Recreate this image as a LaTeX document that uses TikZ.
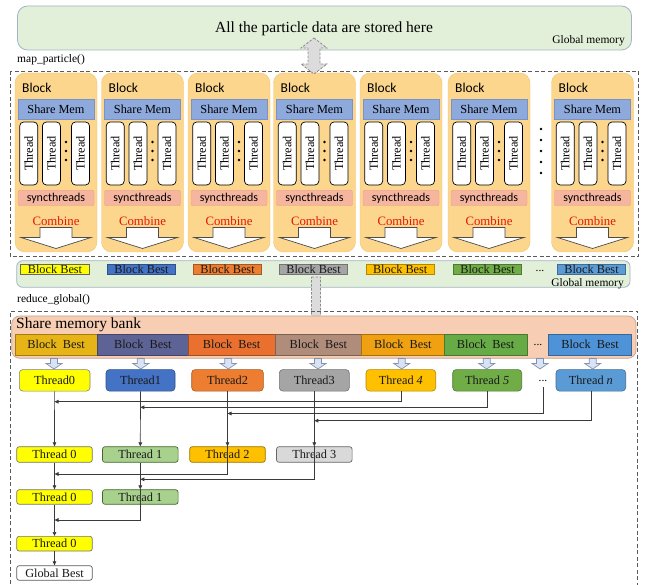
\documentclass[tikz,border=0pt]{standalone}
\usepackage{fontspec}
\setmainfont{Liberation Serif}
\newfontfamily\calibrifont{Carlito}
\usetikzlibrary{arrows.meta}

% frame and panel colours
\definecolor{gmfill}{HTML}{E2F0D9}
\definecolor{gmdraw}{HTML}{A3B3C6}
\definecolor{blkfill}{HTML}{FCD68C}
\definecolor{blkdraw}{HTML}{F1C46E}
\definecolor{smfill}{HTML}{8EA9DB}
\definecolor{smdraw}{HTML}{7A93C6}
\definecolor{syncfill}{HTML}{F5B59F}
\definecolor{syncdraw}{HTML}{EAA184}
\definecolor{combred}{HTML}{E3170A}
\definecolor{bankfill}{HTML}{F7CDB3}
\definecolor{bankdraw}{HTML}{C7A594}
\definecolor{dashgrey}{HTML}{5A5A5A}
\definecolor{linegrey}{HTML}{3A3A3A}
\definecolor{pipefill}{HTML}{DCDCDC}
\definecolor{pipedraw}{HTML}{8C8C8C}
\definecolor{smallarrfill}{HTML}{DAE3F3}
\definecolor{smallarrdraw}{HTML}{7F93B0}
% per-thread palette
\definecolor{pYellow}{HTML}{FFFF00}
\definecolor{pBlue}{HTML}{4472C4}
\definecolor{pOrange}{HTML}{ED7D31}
\definecolor{pGrey}{HTML}{A5A5A5}
\definecolor{pGold}{HTML}{FFC000}
\definecolor{pGreen}{HTML}{70AD47}
\definecolor{pSky}{HTML}{5B9BD5}
\definecolor{pLightGreen}{HTML}{A9D18E}
\definecolor{pLightGrey}{HTML}{D9D9D9}
% shared memory bank cells
\definecolor{bA}{HTML}{E6B416}
\definecolor{bB}{HTML}{5E6396}
\definecolor{bC}{HTML}{E9702F}
\definecolor{bD}{HTML}{B08C7A}
\definecolor{bE}{HTML}{EFA112}
\definecolor{bF}{HTML}{67AB47}
\definecolor{bG}{HTML}{4E92D8}

\tikzset{
  txt/.style={font=\fontsize{11.5}{12}\selectfont, inner sep=0pt},
  bigtxt/.style={font=\fontsize{12.3}{13}\selectfont, inner sep=0pt},
  gmem/.style={draw=gmdraw, fill=gmfill, rounded corners=10pt, line width=0.8pt},
  dashframe/.style={draw=dashgrey, dash pattern=on 4pt off 2.5pt, line width=0.8pt},
  blk/.style={draw=blkdraw, fill=blkfill, rounded corners=10pt, minimum width=82pt, minimum height=179pt, inner sep=0pt},
  blklabel/.style={font=\calibrifont\fontsize{13.5}{14}\selectfont, inner sep=0pt},
  smem/.style={bigtxt, draw=smdraw, fill=smfill, minimum width=76pt, minimum height=20pt},
  thr/.style={bigtxt, draw=black, fill=white, rounded corners=4pt, minimum width=63pt, minimum height=18pt, line width=0.7pt, rotate=90},
  sync/.style={draw=syncdraw, fill=syncfill, rounded corners=2pt, minimum width=76pt, minimum height=15.5pt, inner sep=0pt, font=\calibrifont\fontsize{12}{12}\selectfont},
  combine/.style={font=\fontsize{12.8}{13}\selectfont, inner sep=0pt, text=combred},
  combarrow/.style={draw=black!70, fill=white, line width=0.7pt, line join=miter},
  pipe/.style={draw=pipedraw, fill=pipefill, dash pattern=on 2.5pt off 1.5pt, line width=0.8pt},
  bbox/.style={bigtxt, minimum width=68.5pt, minimum height=10.7pt, line width=0.6pt, text=black!90},
  cell/.style={bigtxt, minimum height=20.7pt, line width=0.6pt, text=black!90},
  smallarr/.style={draw=smallarrdraw, fill=smallarrfill, line width=0.7pt},
  tbox/.style={bigtxt, rounded corners=3.5pt, line width=0.6pt, text=black!90},
  rbox/.style={bigtxt, rounded corners=2.5pt, minimum width=75.6pt, line width=0.7pt, text=black!90},
  conn/.style={draw=linegrey, line width=0.7pt},
  arr/.style={conn, -{Triangle[length=4pt,width=3.6pt]}},
}

\begin{document}
\begin{tikzpicture}[x=1pt, y=-1pt]
\useasboundingbox (0,0) rectangle (648,585);

% ---------------- global memory (particle store) ----------------
\node[gmem, minimum width=614pt, minimum height=44pt, inner sep=0pt] (store) at (324.5,28) {};
\node[font=\fontsize{15.5}{16}\selectfont, inner sep=0pt] (storetxt) at (324,28.5) {All the particle data are stored here};
\node[txt, anchor=east] (gm1) at (625,41) {Global memory};

\node[txt, anchor=west] (mapfn) at (17,60) {map\_particle()};

% ---------------- map_particle kernel frame ----------------
\draw[dashframe] (10,71) rectangle (638,256.5);

\foreach \c [count=\i] in {56,142.5,229,314.5,401,489,592.5} {
  \node[blk] (blk\i) at (\c,162.5) {};
  \node[blklabel, anchor=west] (blt\i) at (\c-34,87.5) {Block};
  \node[smem] (sm\i) at (\c,109) {Share Mem};
  \node[thr] (tha\i) at (\c-27.3,153.5) {Thread};
  \node[thr] (thb\i) at (\c-4.6,153.5) {Thread};
  \node[thr] (thc\i) at (\c+24.5,153.5) {Thread};
  \fill (\c+10,142) circle (1.3pt) (\c+10,151) circle (1.3pt) (\c+10,160) circle (1.3pt);
  \node[sync] (sy\i) at (\c,198) {syncthreads};
  \node[combine] (cb\i) at (\c,221) {Combine};
  \draw[combarrow] (\c-16,227.5) -- (\c+16,227.5) -- (\c+16,237.5) -- (\c+35,237.5)
        -- (\c,248.5) -- (\c-35,237.5) -- (\c-16,237.5) -- cycle;
}
% more blocks follow
\foreach \y in {129,140,151,162,173} \fill (541,\y) circle (1.3pt);

% transfer between global memory and the blocks
\draw[pipe] (314,38) -- (327,48) -- (320,48) -- (320,64) -- (327,64) -- (314,74)
      -- (301,64) -- (308,64) -- (308,48) -- (301,48) -- cycle;

% ---------------- per-block results in global memory ----------------
\node[gmem, rounded corners=6pt, minimum width=613.3pt, minimum height=26.6pt, inner sep=0pt] (bestbar) at (323.35,274) {};
\node[bbox, draw=black!60, fill=pYellow] (bb1) at (55,269.3) {Block Best};
\node[bbox, draw=pBlue!70!black, fill=pBlue] (bb2) at (141.5,269.3) {Block Best};
\node[bbox, draw=pOrange!70!black, fill=pOrange] (bb3) at (227.5,269.3) {Block Best};
\node[bbox, draw=black!55, fill=pGrey] (bb4) at (313.5,269.3) {Block Best};
\node[bbox, draw=pGold!70!black, fill=pGold] (bb5) at (400.2,269.3) {Block Best};
\node[bbox, draw=pGreen!70!black, fill=pGreen] (bb6) at (487.5,269.3) {Block Best};
\node[txt] (bbdots) at (540,270.5) {...};
\node[bbox, draw=pSky!70!black, fill=pSky] (bb7) at (591.5,269.3) {Block Best};
\node[txt, anchor=east] (gm2) at (624,283.3) {Global memory};

% transfer into the reduction kernel
\draw[pipe] (311.5,277) -- (320.5,277) -- (320.5,321) -- (326,321) -- (316,332)
      -- (306,321) -- (311.5,321) -- cycle;

\node[txt, anchor=west] (redfn) at (17,300) {reduce\_global()};

% ---------------- reduce_global kernel frame ----------------
\draw[dashframe] (10.5,590) -- (10.5,311.5) -- (637.5,311.5) -- (637.5,590);

\node[draw=bankdraw, fill=bankfill, rounded corners=8pt, minimum width=624.3pt, minimum height=42.3pt, inner sep=0pt, line width=0.7pt] (bank) at (323.85,337.15) {};
\node[font=\fontsize{15.5}{16}\selectfont, inner sep=0pt, anchor=west] (banktxt) at (16,325) {Share memory bank};

\node[cell, draw=bA!70!black, fill=bA, minimum width=82.3pt] (ca) at (56.15,344.7) {Block\ \ Best};
\node[cell, draw=bB!70!black, fill=bB, minimum width=91pt] (cb) at (142.8,344.7) {Block\ \ Best};
\node[cell, draw=bC!70!black, fill=bC, minimum width=86.7pt] (cc) at (231.65,344.7) {Block\ \ Best};
\node[cell, draw=bD!70!black, fill=bD, minimum width=86.7pt] (cd) at (318.35,344.7) {Block\ \ Best};
\node[cell, draw=bE!70!black, fill=bE, minimum width=82.3pt] (ce) at (402.85,344.7) {Block\ \ Best};
\node[cell, draw=bF!70!black, fill=bF, minimum width=83.3pt] (cf) at (485.65,344.7) {Block\ \ Best};
\node[txt] (cdots) at (538,345) {...};
\node[cell, draw=bG!70!black, fill=bG, minimum width=83.4pt] (cg) at (590,344.7) {Block\ \ Best};

% loads from the bank into the threads
\foreach \c in {54,140.8,228.3,318,401.7,486.7,540,592.7}
  \draw[smallarr] (\c-3.5,358.5) -- (\c+3.5,358.5) -- (\c+3.5,363.5) -- (\c+8,363.5)
        -- (\c,369) -- (\c-8,363.5) -- (\c-3.5,363.5) -- cycle;

% first thread row
\node[tbox, draw=black!50, fill=pYellow, minimum width=70.7pt, minimum height=21.5pt] (t0) at (54.65,380.3) {Thread0};
\node[tbox, draw=pBlue!70!black, fill=pBlue, minimum width=69pt, minimum height=21.5pt] (t1) at (140.5,380.3) {Thread1};
\node[tbox, draw=pOrange!70!black, fill=pOrange, minimum width=71.6pt, minimum height=21.5pt] (t2) at (227.5,380.3) {Thread2};
\node[tbox, draw=black!55, fill=pGrey, minimum width=70pt, minimum height=21.5pt] (t3) at (314.3,380.3) {Thread3};
\node[tbox, draw=pGold!70!black, fill=pGold, minimum width=69.7pt, minimum height=21.5pt] (t4) at (400.85,380.3) {Thread \textit{4}};
\node[tbox, draw=pGreen!70!black, fill=pGreen, minimum width=69pt, minimum height=21.5pt] (t5) at (487.2,380.3) {Thread \textit{5}};
\node[txt, minimum height=12pt] (tdots) at (543,381) {...};
\node[tbox, draw=pSky!70!black, fill=pSky, minimum width=69.7pt, minimum height=21.5pt] (tn) at (590.85,380.3) {Thread \textit{n}};

% second row
\node[rbox, draw=black!55, fill=pYellow, minimum height=15.6pt] (r2a) at (54.5,454.5) {Thread 0};
\node[rbox, draw=pGreen!60!black, fill=pLightGreen, minimum height=15.6pt] (r2b) at (140.3,454.5) {Thread 1};
\node[rbox, draw=pGold!60!black, fill=pGold, minimum height=15.6pt] (r2c) at (227.5,454.5) {Thread 2};
\node[rbox, draw=black!60, fill=pLightGrey, minimum height=15.6pt] (r2d) at (314.3,454.5) {Thread 3};

% third row
\node[rbox, draw=black!55, fill=pYellow, minimum height=14.6pt] (r3a) at (54.5,497) {Thread 0};
\node[rbox, draw=pGreen!60!black, fill=pLightGreen, minimum height=14.6pt] (r3b) at (140.3,497) {Thread 1};

% fourth row and result
\node[rbox, draw=black!55, fill=pYellow, minimum height=14.7pt] (r4a) at (54.5,543.7) {Thread 0};
\node[rbox, draw=black!65, fill=white, minimum height=14.6pt] (gbest) at (54.5,573) {Global Best};

% join points of the reduction tree
\coordinate (j4) at (54.5,401.7);
\coordinate (j5) at (140.3,407.3);
\coordinate (j6) at (227.5,413.5);
\coordinate (j7) at (314.3,420.7);
\coordinate (k2) at (54.5,474);
\coordinate (k3) at (140.3,479.3);
\coordinate (m1) at (54.5,520);

% step 1: thread i+half merges into thread i
\draw[arr] (t0.south) -- (r2a.north);
\draw[arr] (t1.south) -- (r2b.north);
\draw[arr] (t2.south) -- (r2c.north);
\draw[arr] (t3.south) -- (r2d.north);
\draw[arr] (t4.south) |- (j4);
\draw[arr] (t5.south) |- (j5);
\draw[arr] (tdots.south) |- (j6);
\draw[arr] (tn.south) |- (j7);

% step 2
\draw[arr] (r2a.south) -- (r3a.north);
\draw[arr] (r2b.south) -- (r3b.north);
\draw[arr] (r2c.north) |- (k2);
\draw[arr] (r2d.north) |- (k3);

% step 3
\draw[arr] (r3a.south) -- (r4a.north);
\draw[arr] (r3b.north) |- (m1);

% final result
\draw[arr] (r4a.south) -- (gbest.north);
\end{tikzpicture}
\end{document}
